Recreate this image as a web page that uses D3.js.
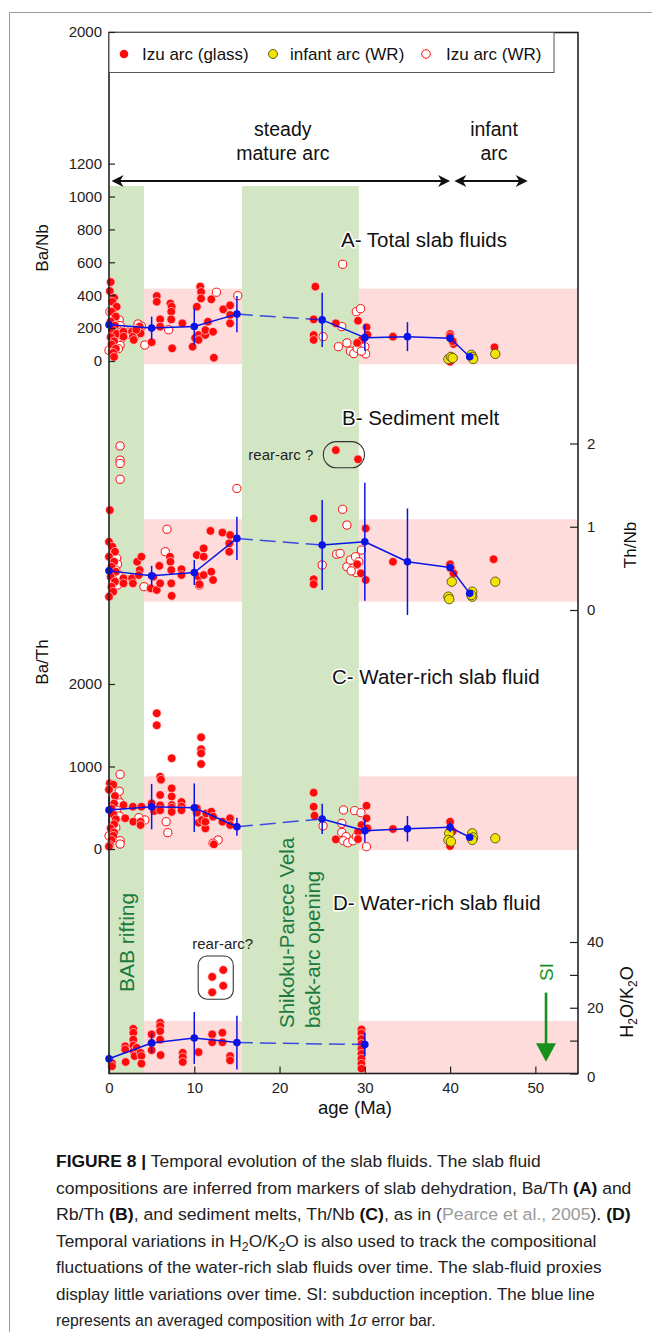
<!DOCTYPE html>
<html>
<head>
<meta charset="utf-8">
<script src="https://cdn.jsdelivr.net/npm/d3@7"></script>
<style>
  html, body { margin: 0; padding: 0; background: #fff; }
  svg { display: block; font-family: "Liberation Sans", Arial, Helvetica, sans-serif; }
</style>
</head>
<body>
<svg id="fig" width="652" height="1332"></svg>
<script>
// ---------- tick values ----------
const ageTicks = [0, 10, 20, 30, 40, 50];
const baNbTicks = [0, 200, 400, 600, 800, 1000, 1200, 2000];
const thNbTicks = [0, 1, 2];
const baThTicks = [0, 1000, 2000];
const h2oTicks = [0, 10, 20, 30, 40];

// ---------- tectonic intervals (Ma) ----------
const riftBands = [[0, 4.1], [15.6, 29.3]];
const arcStages = [
  { lines: ["steady", "mature arc"], from: 0.3, to: 40 },
  { lines: ["infant", "arc"], from: 40.5, to: 49.1 }
];
const siAge = 51.25;

// ---------- A: Ba/Nb  [age Ma, value] ----------
const glassA = [
  [0.2,480],[0.1,425],[0.6,385],[0.4,360],[0.9,330],[0.3,300],[0.8,270],[0.2,240],[0.7,215],[0.4,190],
  [0.9,165],[0.2,145],[0.6,120],[0.3,100],[0.8,75],[0.5,50],[0.6,25],
  [1.7,178],[1.7,148],[2.7,178],[2.8,148],[2.9,128],[3.6,209],[3.7,168],[3.2,190],
  [5.0,114],[5.6,395],[5.6,360],[6.0,253],[6.0,209],[7.2,350],[7.35,330],[7.3,300],[7.3,253],[7.4,77],
  [8.6,229],[9.8,87],[10.1,140],[10.3,330],[10.7,452],[10.8,420],[10.8,380],[10.5,158],[10.5,128],
  [11.3,158],[11.3,188],[11.6,239],[12.0,375],[12.2,178],[12.3,20],[13.4,314],[14.2,338],[14.2,280],[14.2,229],
  [24.2,452],[24.0,253],[24.0,158],[24.0,128],[26.6,229],[29.2,245],[30.2,205],[29.6,128],[29.1,110],[30.3,160],
  [33.3,148],[40.0,164],[40.0,150],[40.4,103],[40.3,120],[40.0,-4],[45.2,83]
];
const wrA = [
  [0.1,300],[0.5,280],[0.8,265],[1.2,250],[0.6,235],[1.3,215],[1.0,190],[1.4,175],[1.2,155],[1.4,135],
  [0.9,115],[1.3,95],[1.1,75],[0.0,65],[0.4,55],
  [2.2,175],[2.5,160],[3.0,148],[3.4,225],[3.8,212],[3.6,195],[4.2,97],
  [7.0,190],[12.6,418],[15.1,397],
  [25.1,148],[27.4,588],[27.3,209],[26.9,87],[27.9,110],[28.3,60],[28.7,45],[29.1,77],[29.0,300],[29.5,318],
  [30.0,87],[30.1,43],[29.6,60]
];
const infantA = [[39.8,12],[40.1,25],[40.3,18],[42.5,38],[42.6,25],[42.7,12],[45.3,43]];
// [age, mean, 1 sigma]
const meanA = [[0,220,40],[5,200,70],[10,210,110],[15,285,110],[25,250,165],[30,142,80],[35,148,88],[40,138,0],[42.3,26,0]];

// ---------- B: Th/Nb ----------
const glassB = [
  [0.1,1.20],[0.0,0.82],[0.4,0.76],[0.7,0.70],[0.0,0.64],[0.6,0.58],[0.3,0.52],[0.8,0.46],[0.2,0.40],[0.7,0.34],
  [0.3,0.28],[0.5,0.22],[0.0,0.16],
  [1.7,0.38],[1.7,0.32],[2.7,0.38],[2.8,0.32],[3.3,0.58],[3.8,0.64],[3.6,0.48],[3.5,0.42],
  [4.9,0.26],[5.2,0.40],[5.6,0.24],[5.9,0.53],[6.0,0.32],[7.15,0.64],[7.2,0.58],[7.3,0.48],[7.3,0.32],[7.35,0.17],
  [8.5,0.49],[8.5,0.42],[10.3,0.66],[11.1,0.74],[11.1,0.64],[10.5,0.40],[10.6,0.31],[11.1,0.42],[12.0,0.46],
  [12.2,0.36],[11.9,0.95],[13.3,0.93],[14.2,0.90],[14.1,0.80],[14.1,0.70],
  [24.0,1.10],[24.0,0.37],[24.0,0.31],[30.1,0.98],[29.1,0.55],[29.55,0.44],[30.1,0.36],[33.3,0.58],
  [40.0,0.55],[40.1,0.50],[40.4,0.44],[45.1,0.61]
];
const rearArcB = [[26.6,1.92],[29.2,1.81]];
const wrB = [
  [1.3,1.97],[1.3,1.80],[1.3,1.76],[1.3,1.57],
  [0.6,0.70],[0.9,0.62],[1.0,0.55],[0.8,0.48],[1.1,0.42],[0.5,0.36],[1.0,0.30],
  [4.1,0.28],[6.6,0.70],[6.8,0.97],[15.0,1.46],[10.6,0.30],
  [27.4,1.21],[27.9,1.02],[26.7,0.67],[27.1,0.68],[25.0,0.54],[27.9,0.52],[28.3,0.60],[28.6,0.50],[28.9,0.64],
  [29.3,0.58],[29.6,0.72],[29.0,0.45],[28.4,0.47]
];
const infantB = [[40.2,0.34],[39.8,0.16],[39.9,0.13],[42.6,0.22],[42.6,0.16],[42.5,0.18],[45.3,0.34]];
const meanB = [[0,0.47,0.12],[5,0.41,0.12],[10,0.45,0.15],[15,0.86,0.26],[25,0.78,0.54],[30,0.82,0.71],[35,0.58,0.64],[40,0.51,0],[42.3,0.20,0]];

// ---------- C: Ba/Th ----------
const glassC = [
  [0.1,796],[0.5,780],[0.0,720],[0.7,642],[0.6,552],[0.3,490],[0.5,420],[0.8,360],[0.6,300],[0.2,250],
  [0.6,200],[0.5,160],[0.3,109],[0.1,48],[0.0,30],
  [1.7,533],[1.9,372],[2.8,513],[2.85,331],[3.7,330],[3.7,290],[3.8,513],
  [5.6,1645],[5.6,1500],[5.0,553],[5.3,460],[6.0,876],[6.1,840],[6.0,655],[6.0,530],[6.0,470],
  [7.35,1100],[7.35,735],[7.35,636],[7.35,533],[7.35,500],[7.35,450],[8.5,570],[8.5,515],[8.5,470],
  [10.8,1354],[10.8,1210],[10.8,1160],[10.8,1030],[10.3,493],[10.3,440],[10.5,319],[10.9,351],[11.3,250],
  [11.3,330],[11.4,430],[12.0,452],[12.2,392],[12.3,57],[13.3,331],[14.2,372],[14.2,290],
  [24.0,683],[24.0,513],[24.1,404],[26.6,117],[30.2,525],[30.2,372],[29.6,290],[29.2,210],[29.2,120],
  [30.3,250],[33.3,242],[40.0,331],[40.0,230],[40.3,215],[40.0,36]
];
const wrC = [
  [1.3,905],[1.2,700],[1.0,600],[1.3,560],[0.9,470],[1.2,400],[1.3,100],[1.3,60],[0.0,160],[0.8,260],
  [4.2,352],[3.5,380],[6.7,331],[6.9,198],[12.8,109],[12.2,70],
  [25.1,280],[27.5,473],[28.8,465],[29.55,440],[27.3,311],[27.3,200],[27.8,150],[27.5,100],[28.0,75],
  [28.6,100],[29.0,150],[30.2,28]
];
const infantC = [[39.9,190],[39.8,110],[40.1,90],[42.6,190],[42.7,140],[42.6,110],[45.3,130]];
const meanC = [[0,473,160],[5,513,275],[10,500,295],[15,270,110],[25,364,183],[30,222,140],[35,246,155],[40,263,60],[42.3,142,0]];

// ---------- D: H2O/K2O ----------
const glassD = [
  [0.35,3.2],[0.35,2.2],[1.9,8.3],[1.9,7.3],[1.95,3.5],[2.85,13.6],[2.85,12.4],[2.85,10.3],[2.85,8.5],[2.9,6.8],
  [3.0,5.3],[3.25,7.8],[3.7,6.3],[3.8,5.3],[3.8,3.0],[5.0,11.9],[5.0,9.3],[5.0,7.1],[6.0,15.4],[6.0,14.4],
  [6.0,12.9],[6.0,10.3],[6.05,5.6],[8.65,6.3],[8.65,4.95],[8.65,3.5],[10.5,6.5],[12.1,11.9],[12.1,9.5],
  [13.3,12.4],[13.3,9.5],[14.2,5.3],[14.2,4.0],
  [29.6,13.4],[29.6,12.2],[29.6,10.5],[29.6,9.0],[29.6,7.5],[29.6,6.0],[29.6,4.5],[29.6,3.0],[29.6,1.5]
];
const rearArcD = [[12.1,29.4],[13.4,31.5],[12.1,24.7],[13.4,26.7]];
const meanD = [[0,4.5,1.5],[5,9.3,3],[10,10.8,7.9],[15,9.4,8.2],[30,8.8,3.6]];

// ---------- typical-composition fields ----------
const pinkA = [-20, 440];
const pinkB = [0.1, 1.09];
const pinkC = [-12, 880];
const pinkD = [0, 16];

// ---------- caption ----------
const captionLines = [
  [["FIGURE 8 | ", "b"], ["Temporal evolution of the slab fluids. The slab fluid", ""]],
  [["compositions are inferred from markers of slab dehydration, Ba/Th ", ""], ["(A)", "b"], [" and", ""]],
  [["Rb/Th ", ""], ["(B)", "b"], [", and sediment melts, Th/Nb ", ""], ["(C)", "b"], [", as in (", ""], ["Pearce et al., 2005", "g"], ["). ", ""], ["(D)", "b"]],
  [["Temporal variations in H", ""], ["2", "sub"], ["O/K", ""], ["2", "sub"], ["O is also used to track the compositional", ""]],
  [["fluctuations of the water-rich slab fluids over time. The slab-fluid proxies", ""]],
  [["display little variations over time. SI: subduction inception. The blue line", ""]],
  [["represents an averaged composition with ", ""], ["1σ", "i"], [" error bar.", ""]]
];
const captionWidths = [485, 576, 575, 541, 546, 539, 380];

// ================= drawing =================
const svg = d3.select("#fig");
const L = 109, R = 578, T = 32.5, B = 1073.5, bandTop = 186;

const x = d3.scaleLinear().domain([0, 55]).range([L, R]);
const yA = d3.scaleLinear().domain([0, 2000]).range([361, 32]);
const yB = d3.scaleLinear().domain([0, 2]).range([610, 443.5]);
const yC = d3.scaleLinear().domain([0, 2000]).range([849, 684]);
const yD = d3.scaleLinear().domain([0, 40]).range([B, 942]);

const RED = "#ff0a0a", BLUE = "#0a14e6", GREEN_BAND = "#d3e6c4", PINK = "#fddcdb";
const BAND_TEXT = "#1d7a3e";

// outer figure border
svg.append("path").attr("d", "M9.5,1332V12.5H652").attr("fill", "none").attr("stroke", "#9a9a9a").attr("stroke-width", 1);

const panels = [
  { y: yA, glass: glassA, wr: wrA, infant: infantA, mean: meanA, pink: pinkA },
  { y: yB, glass: glassB.concat(rearArcB), wr: wrB, infant: infantB, mean: meanB, pink: pinkB },
  { y: yC, glass: glassC, wr: wrC, infant: infantC, mean: meanC, pink: pinkC },
  { y: yD, glass: glassD.concat(rearArcD), wr: [], infant: [], mean: meanD, pink: pinkD }
];

// pink fields
const gBack = svg.append("g");
panels.forEach(p => {
  gBack.append("rect")
    .attr("x", x(riftBands[0][1])).attr("width", x(55) - x(riftBands[0][1]))
    .attr("y", p.y(p.pink[1])).attr("height", p.y(p.pink[0]) - p.y(p.pink[1]))
    .attr("fill", PINK);
});
// green rifting / back-arc opening bands
riftBands.forEach(b => {
  gBack.append("rect")
    .attr("x", x(b[0])).attr("width", x(b[1]) - x(b[0]))
    .attr("y", bandTop).attr("height", B - bandTop)
    .attr("fill", GREEN_BAND);
});

// rotated labels
function vText(g, px, py, txt, size, color, anchor) {
  return g.append("text")
    .attr("transform", `translate(${px},${py}) rotate(-90)`)
    .attr("text-anchor", anchor || "middle")
    .attr("dy", "0.35em")
    .attr("font-size", size)
    .attr("fill", color)
    .text(txt);
}
vText(svg, x(2.1), 992, "BAB rifting", 21, BAND_TEXT, "start");
vText(svg, 287, 1028, "Shikoku-Parece Vela", 20.5, BAND_TEXT, "start");
vText(svg, 313, 1028, "back-arc opening", 20.5, BAND_TEXT, "start");

// panel titles (white halo over the green band)
const titles = [
  ["A- Total slab fluids", 341, 247],
  ["B- Sediment melt", 342, 425],
  ["C- Water-rich slab fluid", 332, 684],
  ["D- Water-rich slab fluid", 333, 910]
];
titles.forEach(t => {
  svg.append("text").attr("x", t[1]).attr("y", t[2])
    .attr("font-size", 20.5).attr("fill", "#111")
    .attr("stroke", "#fff").attr("stroke-width", 3).attr("paint-order", "stroke")
    .attr("stroke-linejoin", "round")
    .text(t[0]);
});

// data points
const gPts = svg.append("g");
panels.forEach(p => {
  gPts.selectAll(null).data(p.wr).join("circle")
    .attr("cx", d => x(d[0])).attr("cy", d => p.y(d[1])).attr("r", 4.1)
    .attr("fill", "#fff").attr("stroke", RED).attr("stroke-width", 1);
  gPts.selectAll(null).data(p.glass).join("circle")
    .attr("cx", d => x(d[0])).attr("cy", d => p.y(d[1])).attr("r", 4.3)
    .attr("fill", RED).attr("stroke", "#ffd6d6").attr("stroke-width", 0.7);
  gPts.selectAll(null).data(p.infant).join("circle")
    .attr("cx", d => x(d[0])).attr("cy", d => p.y(d[1])).attr("r", 4.7)
    .attr("fill", "#f3e300").attr("stroke", "#55501c").attr("stroke-width", 0.9);
});

// averaged composition: line, 1-sigma bars, means
const gMean = svg.append("g");
panels.forEach(p => {
  const m = p.mean;
  for (let i = 0; i < m.length - 1; i++) {
    const a = m[i], b = m[i + 1];
    const acrossGap = a[0] < riftBands[1][0] && b[0] > 20;
    gMean.append("line")
      .attr("x1", x(a[0])).attr("y1", p.y(a[1]))
      .attr("x2", x(b[0])).attr("y2", p.y(b[1]))
      .attr("stroke", BLUE).attr("stroke-width", 1.5)
      .attr("stroke-opacity", acrossGap ? 0.75 : 1)
      .attr("stroke-dasharray", acrossGap ? "16,7" : null);
  }
  gMean.selectAll(null).data(m.filter(d => d[2] > 0)).join("line")
    .attr("x1", d => x(d[0])).attr("x2", d => x(d[0]))
    .attr("y1", d => p.y(d[1] - d[2])).attr("y2", d => p.y(d[1] + d[2]))
    .attr("stroke", BLUE).attr("stroke-width", 1.5);
  gMean.selectAll(null).data(m).join("circle")
    .attr("cx", d => x(d[0])).attr("cy", d => p.y(d[1])).attr("r", 3.8)
    .attr("fill", BLUE);
});

// rear-arc outlines around their samples
function enclose(pts, yS, padL, padR, padT, padB, rx) {
  const xs = pts.map(d => x(d[0])), ys = pts.map(d => yS(d[1]));
  const x0 = d3.min(xs) - padL, x1 = d3.max(xs) + padR;
  const y0 = d3.min(ys) - padT, y1 = d3.max(ys) + padB;
  svg.append("rect").attr("x", x0).attr("y", y0).attr("width", x1 - x0).attr("height", y1 - y0)
    .attr("rx", rx).attr("fill", "none").attr("stroke", "#333").attr("stroke-width", 1.1);
  return [x0, y0, x1, y1];
}
const boxB = enclose(rearArcB, yB, 12.5, 6.5, 8.5, 8.5, 13);
svg.append("text").attr("x", boxB[0] - 75).attr("y", (boxB[1] + boxB[3]) / 2).attr("dy", "0.35em")
  .attr("font-size", 15).attr("fill", "#222").text("rear-arc ?");
const boxD = enclose(rearArcD, yD, 14, 10, 14, 7, 9);
svg.append("text").attr("x", (boxD[0] + boxD[2]) / 2 + 7).attr("y", boxD[1] - 12).attr("dy", "0.35em")
  .attr("text-anchor", "middle").attr("font-size", 15).attr("fill", "#222").text("rear-arc?");

// subduction inception arrow
const SI_GREEN = "#16901a";
const siX = x(siAge);
svg.append("line").attr("x1", siX).attr("x2", siX).attr("y1", yD(24.6)).attr("y2", yD(8))
  .attr("stroke", SI_GREEN).attr("stroke-width", 2.6);
svg.append("path")
  .attr("d", `M${siX - 10},${yD(9.2)} L${siX + 10},${yD(9.2)} L${siX},${yD(3.6)} Z`)
  .attr("fill", SI_GREEN);
vText(svg, siX, 972, "SI", 19, SI_GREEN, "middle");

// plot frame
svg.append("rect").attr("x", L).attr("y", T).attr("width", R - L).attr("height", B - T)
  .attr("fill", "none").attr("stroke", "#222").attr("stroke-width", 1.6);

// legend
const lg = svg.append("g");
lg.append("rect").attr("x", L).attr("y", T).attr("width", 445).attr("height", 40)
  .attr("fill", "#fff").attr("stroke", "#555").attr("stroke-width", 1);
lg.append("circle").attr("cx", 124).attr("cy", 54).attr("r", 4.3).attr("fill", RED);
lg.append("text").attr("x", 142).attr("y", 60).attr("font-size", 17).attr("fill", "#111").text("Izu arc (glass)");
lg.append("circle").attr("cx", 273).attr("cy", 54).attr("r", 4.5).attr("fill", "#f3e300").attr("stroke", "#55501c").attr("stroke-width", 0.9);
lg.append("text").attr("x", 290).attr("y", 60).attr("font-size", 17).attr("fill", "#111").text("infant arc (WR)");
lg.append("circle").attr("cx", 426).attr("cy", 54).attr("r", 4.3).attr("fill", "#fff").attr("stroke", RED).attr("stroke-width", 1);
lg.append("text").attr("x", 446).attr("y", 60).attr("font-size", 17).attr("fill", "#111").text("Izu arc (WR)");

// arc stage arrows
const arrowY = 181;
function head(xTip, dir) {
  return `M${xTip},${arrowY} L${xTip - dir * 12},${arrowY - 6} L${xTip - dir * 8.5},${arrowY} L${xTip - dir * 12},${arrowY + 6} Z`;
}
arcStages.forEach(s => {
  const x0 = x(s.from), x1 = x(s.to);
  svg.append("line").attr("x1", x0 + 4).attr("x2", x1 - 4).attr("y1", arrowY).attr("y2", arrowY)
    .attr("stroke", "#111").attr("stroke-width", 1.8);
  svg.append("path").attr("d", head(x0, -1)).attr("fill", "#111");
  svg.append("path").attr("d", head(x1, 1)).attr("fill", "#111");
  const cx = (x0 + x1) / 2 + (s.from > 30 ? 3 : 2);
  s.lines.forEach((ln, i) => {
    svg.append("text").attr("x", cx).attr("y", 136 + i * 24).attr("text-anchor", "middle")
      .attr("font-size", 19.5).attr("fill", "#111").text(ln);
  });
});

// axes
const plain = d3.format("d");
function styleAxis(g) {
  g.select(".domain").remove();
  g.selectAll(".tick line").attr("stroke", "#222").attr("stroke-width", 1.2);
  g.selectAll(".tick text").attr("font-size", 15).attr("fill", "#222")
    .attr("font-family", "Liberation Sans, Arial, sans-serif");
}
svg.append("g").attr("transform", `translate(${L},0)`)
  .call(d3.axisLeft(yA).tickValues(baNbTicks).tickFormat(plain).tickSize(-6).tickPadding(7)).call(styleAxis);
svg.append("g").attr("transform", `translate(${L},0)`)
  .call(d3.axisLeft(yC).tickValues(baThTicks).tickFormat(plain).tickSize(-6).tickPadding(7)).call(styleAxis);
svg.append("g").attr("transform", `translate(${R},0)`)
  .call(d3.axisRight(yB).tickValues(thNbTicks).tickFormat(plain).tickSize(-8).tickPadding(9)).call(styleAxis);
const axD = svg.append("g").attr("transform", `translate(${R},0)`)
  .call(d3.axisRight(yD).tickValues(h2oTicks).tickSize(-8).tickPadding(9)
    .tickFormat(d => d % 20 === 0 ? plain(d) : "")).call(styleAxis);
axD.selectAll(".tick text").filter(d => d === 0).attr("dy", "0.55em");
svg.append("g").attr("transform", `translate(0,${B})`)
  .call(d3.axisBottom(x).tickValues(ageTicks).tickFormat(plain).tickSize(-7).tickPadding(9)).call(styleAxis);

// axis titles
vText(svg, 42, 248, "Ba/Nb", 17, "#111", "middle");
vText(svg, 42, 662, "Ba/Th", 17, "#111", "middle");
vText(svg, 630, 545, "Th/Nb", 17, "#111", "middle");
const h2o = svg.append("text")
  .attr("transform", `translate(627,1002) rotate(-90)`)
  .attr("text-anchor", "middle").attr("dy", "0.35em").attr("font-size", 18).attr("fill", "#111");
h2o.append("tspan").text("H");
h2o.append("tspan").attr("font-size", 12).attr("dy", 4).text("2");
h2o.append("tspan").attr("dy", -4).text("O/K");
h2o.append("tspan").attr("font-size", 12).attr("dy", 4).text("2");
h2o.append("tspan").attr("dy", -4).text("O");
svg.append("text").attr("x", 355).attr("y", 1114).attr("text-anchor", "middle")
  .attr("font-size", 18.5).attr("fill", "#111").text("age (Ma)");

// caption: each line is set in the sans face and condensed horizontally to its measure
captionLines.forEach((segs, i) => {
  const g = svg.append("g");
  const t = g.append("text").attr("x", 0).attr("y", 0)
    .attr("font-size", 17).attr("fill", "#222");
  let prevSub = false;
  segs.forEach(([s, st]) => {
    const ts = t.append("tspan").text(s);
    if (st === "b") ts.attr("font-weight", "bold").attr("fill", "#111");
    if (st === "g") ts.attr("fill", "#9a9a9a");
    if (st === "i") ts.attr("font-style", "italic");
    if (st === "sub") ts.attr("font-size", 12).attr("dy", 4);
    else if (prevSub) ts.attr("dy", -4);
    prevSub = st === "sub";
  });
  const natural = t.node().getComputedTextLength();
  const k = captionWidths[i] / natural;
  g.attr("transform", `translate(56,${1167 + i * 26.5}) scale(${k},1)`);
});
</script>
</body>
</html>
